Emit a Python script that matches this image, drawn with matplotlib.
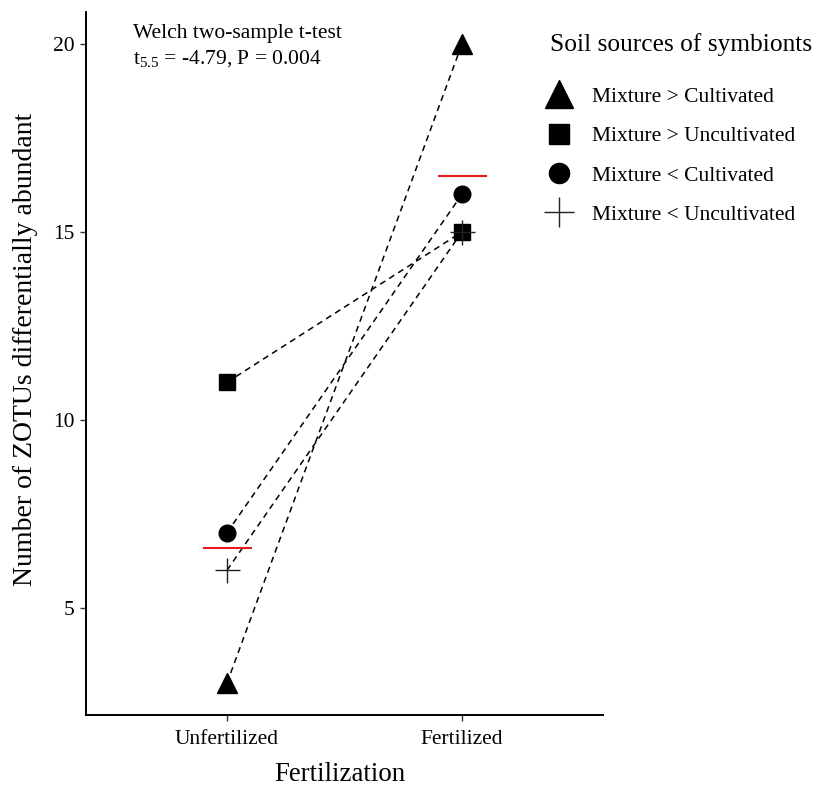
import numpy as np
import matplotlib
matplotlib.use('Agg')
import matplotlib.pyplot as plt
from matplotlib.lines import Line2D

plt.rcParams['font.family'] = ['Liberation Serif', 'DejaVu Serif']
plt.rcParams['mathtext.fontset'] = 'custom'
plt.rcParams['mathtext.rm'] = 'Liberation Serif'
plt.rcParams['mathtext.it'] = 'Liberation Serif'

# data
treatments = ['Unfertilized', 'Fertilized']
groups = ['Mixture > Cultivated', 'Mixture > Uncultivated',
          'Mixture < Cultivated', 'Mixture < Uncultivated']
unfertilized = [3, 11, 7, 6]
fertilized = [20, 15, 16, 15]
group_means = [6.6, 16.5]

markers = ['^', 's', 'o', '+']
sizes = [15, 12, 12, 18]
leg_sizes = [19.5, 14.5, 14.5, 22]

fig = plt.figure(figsize=(8.25, 7.85), dpi=100)
ax = fig.add_axes([86 / 825, 1 - 715 / 785, (603 - 86) / 825, (715 - 12) / 785])

xpos = np.arange(1, len(treatments) + 1)
for i, g in enumerate(groups):
    yy = [unfertilized[i], fertilized[i]]
    ax.plot(xpos, yy, color='black', linestyle=(0, (4, 3)), linewidth=1.1, zorder=2)
    if markers[i] == '+':
        ax.plot(xpos, yy, linestyle='none', marker='+', markersize=sizes[i],
                markeredgewidth=1.0, color='#222222', zorder=3)
    else:
        ax.plot(xpos, yy, linestyle='none', marker=markers[i], markersize=sizes[i],
                color='black', zorder=3)

for x, m in zip(xpos, group_means):
    ax.plot([x - 0.1, x + 0.1], [m, m], color='#e41a1c', linewidth=1.5, zorder=4)

ax.set_xlim(0.4, 2.6)
ax.set_ylim(2.15, 20.85)
ax.set_xticks(xpos)
ax.set_xticklabels(treatments)
ax.set_yticks([5, 10, 15, 20])
ax.spines['top'].set_visible(False)
ax.spines['right'].set_visible(False)
for s in ['left', 'bottom']:
    ax.spines[s].set_linewidth(1.4)
ax.tick_params(axis='both', length=4, width=1, color='#333333', labelsize=15.5, pad=4)
ax.tick_params(axis='x', pad=7)
ax.set_xlabel('Fertilization', fontsize=19.3, va='center')
ax.xaxis.set_label_coords(0.491, -0.084)
ax.set_ylabel('Number of ZOTUs differentially abundant', fontsize=20, va='center')
ax.yaxis.set_label_coords(-0.117, 0.52)

ax.text(0.091, 0.969, 'Welch two-sample t-test', transform=ax.transAxes,
        fontsize=15.5, va='center', ha='left')
ax.text(0.091, 0.934, r'$\mathregular{t_{5.5}}$ = -4.79, P = 0.004', transform=ax.transAxes,
        fontsize=15.5, va='center', ha='left')

handles = []
for i, g in enumerate(groups):
    if markers[i] == '+':
        h = Line2D([], [], linestyle='none', marker='+', markersize=leg_sizes[i],
                   markeredgewidth=1.0, color='#222222')
    else:
        h = Line2D([], [], linestyle='none', marker=markers[i],
                   markersize=leg_sizes[i], color='black')
    handles.append(h)
fig.text(550 / 825, 1 - 45 / 785, 'Soil sources of symbionts', fontsize=18.3,
         ha='left', va='center')
leg = fig.legend(handles, groups, loc='upper left', bbox_to_anchor=(540 / 825, 1 - 78 / 785),
                 frameon=False, fontsize=15.5, labelspacing=0.9, handlelength=1.0,
                 handletextpad=1.0, borderaxespad=0)

fig.savefig('out.png', dpi=100)
